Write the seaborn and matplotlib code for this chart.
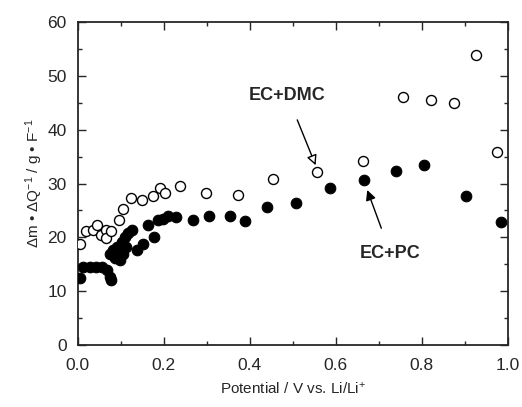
import numpy as np
import pandas as pd
import matplotlib
matplotlib.use("Agg")
import matplotlib.pyplot as plt
import seaborn as sns
from matplotlib.ticker import MultipleLocator

# EC+DMC (open circles)
dmc_x = [0.006, 0.020, 0.036, 0.045, 0.053, 0.065, 0.065, 0.078, 0.096, 0.105,
         0.123, 0.150, 0.175, 0.191, 0.203, 0.237, 0.299, 0.373, 0.454, 0.556,
         0.662, 0.757, 0.822, 0.874, 0.925, 0.974]
dmc_y = [18.8, 21.2, 21.4, 22.3, 20.4, 21.4, 19.9, 21.2, 23.2, 25.3,
         27.3, 27.0, 27.6, 29.1, 28.2, 29.6, 28.2, 27.9, 30.9, 32.2,
         34.1, 46.0, 45.5, 44.9, 53.9, 35.9]

# EC+PC (filled circles)
pc_x = [0.006, 0.012, 0.028, 0.043, 0.057, 0.067, 0.074, 0.078, 0.074, 0.082,
        0.086, 0.091, 0.098, 0.102, 0.105, 0.109, 0.113, 0.117, 0.125, 0.138,
        0.152, 0.164, 0.177, 0.187, 0.198, 0.210, 0.229, 0.267, 0.305, 0.353,
        0.388, 0.440, 0.507, 0.586, 0.665, 0.740, 0.805, 0.902, 0.985]
pc_y = [12.4, 14.5, 14.5, 14.5, 14.5, 13.9, 12.7, 12.1, 17.0, 17.7,
        16.1, 18.3, 15.8, 19.2, 17.0, 20.1, 18.3, 20.8, 21.4, 17.7,
        18.8, 22.3, 20.1, 23.2, 23.5, 23.9, 23.7, 23.3, 23.9, 23.9,
        23.1, 25.6, 26.3, 29.1, 30.7, 32.4, 33.5, 27.6, 22.9]

dmc = pd.DataFrame({"x": dmc_x, "y": dmc_y})
pc = pd.DataFrame({"x": pc_x, "y": pc_y})

sns.set_style("ticks")
plt.rcParams["font.family"] = ["Liberation Sans", "DejaVu Sans"]
plt.rcParams["mathtext.fontset"] = "custom"
plt.rcParams["mathtext.rm"] = "Liberation Sans"
plt.rcParams["mathtext.it"] = "Liberation Sans"
plt.rcParams["mathtext.default"] = "regular"

fig = plt.figure(figsize=(5.22, 4.07), dpi=100)
ax = fig.add_axes([0.149, 0.152, 0.824, 0.794])

sns.scatterplot(data=pc, x="x", y="y", ax=ax, marker="o", s=58,
                color="black", edgecolor="black", linewidth=0.8, zorder=3)
sns.scatterplot(data=dmc, x="x", y="y", ax=ax, marker="o", s=52,
                facecolor="white", edgecolor="black", linewidth=1.0, zorder=4)

ax.set_xlim(0, 1.0)
ax.set_ylim(0, 60)
ax.xaxis.set_major_locator(MultipleLocator(0.2))
ax.xaxis.set_minor_locator(MultipleLocator(0.1))
ax.yaxis.set_major_locator(MultipleLocator(10))
ax.yaxis.set_minor_locator(MultipleLocator(5))
ax.tick_params(which="both", direction="in", top=True, right=True, width=1.0)
ax.tick_params(which="major", length=6, labelsize=12.5)
ax.tick_params(axis="x", which="major", pad=9)
ax.tick_params(axis="y", which="major", pad=8)
ax.tick_params(which="minor", length=3)
for sp in ax.spines.values():
    sp.set_linewidth(1.3)

ax.set_xlabel("Potential / V vs. Li/Li$^{+}$", fontsize=11, labelpad=6)
ax.set_ylabel("Δm • ΔQ$^{-1}$ / g • F$^{-1}$", fontsize=11, labelpad=2)

ax.annotate("EC+DMC", xy=(0.553, 33.4), xytext=(0.487, 46.4),
            ha="center", va="center", fontsize=13, fontweight="bold",
            arrowprops=dict(arrowstyle="-|>", facecolor="white", edgecolor="black",
                            lw=1.0, mutation_scale=15, shrinkA=10, shrinkB=0))
ax.annotate("EC+PC", xy=(0.673, 28.8), xytext=(0.727, 17.1),
            ha="center", va="center", fontsize=13, fontweight="bold",
            arrowprops=dict(arrowstyle="-|>", facecolor="black", edgecolor="black",
                            lw=1.0, mutation_scale=15, shrinkA=10, shrinkB=0))

fig.savefig("out.png", dpi=100)
